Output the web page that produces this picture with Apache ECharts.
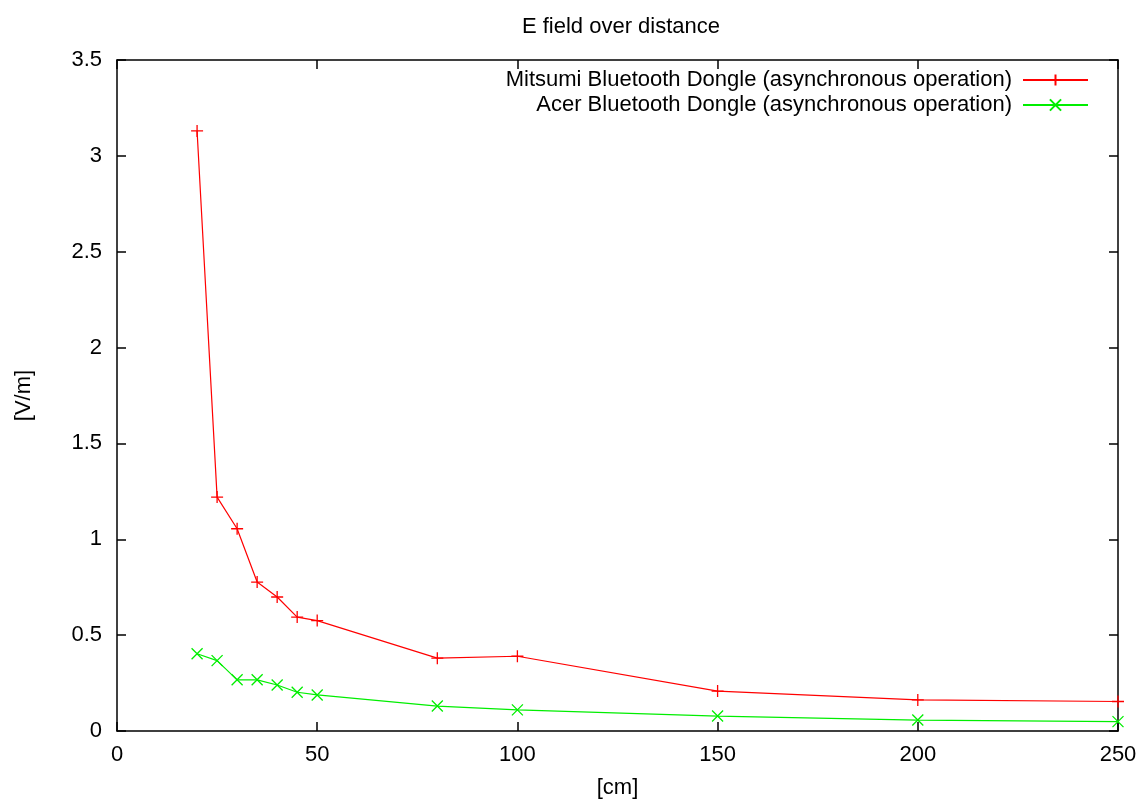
<!DOCTYPE html>
<html>
<head>
<meta charset="utf-8">
<script src="https://cdn.jsdelivr.net/npm/echarts@6/dist/echarts.min.js"></script>
<style>html,body{margin:0;padding:0;background:#fff}#c{width:1145px;height:806px}</style>
</head>
<body>
<div id="c"></div>
<script>
const distances = [20, 25, 30, 35, 40, 45, 50, 80, 100, 150, 200, 250];
const mitsumi = [3.13, 1.22, 1.055, 0.777, 0.699, 0.594, 0.576, 0.38, 0.39, 0.208, 0.162, 0.154];
const acer = [0.403, 0.367, 0.267, 0.267, 0.240, 0.202, 0.188, 0.130, 0.110, 0.078, 0.057, 0.049];
const xTicks = [0, 50, 100, 150, 200, 250];
const yTicks = [0, 0.5, 1, 1.5, 2, 2.5, 3, 3.5];
const names = ['Mitsumi Bluetooth Dongle (asynchronous operation)', 'Acer Bluetooth Dongle (asynchronous operation)'];

const FONT = 'Liberation Sans';
const FS = 22;
const pair = (ys) => distances.map((d, i) => [d, ys[i]]);
const axisCommon = {
  axisLine: { show: true, onZero: false, lineStyle: { color: '#000', width: 1.5 } },
  axisTick: { show: true, inside: true, length: 9, lineStyle: { color: '#000', width: 1.5 } },
  splitLine: { show: false },
};
const chart = echarts.init(document.getElementById('c'), null, { renderer: 'canvas' });
chart.setOption({
  animation: false,
  backgroundColor: '#fff',
  title: {
    text: 'E field over distance', left: 616, top: 11, textAlign: 'center',
    textStyle: { fontFamily: FONT, fontSize: FS, fontWeight: 'normal', color: '#000' }
  },
  grid: { left: 117, right: 27, top: 60, bottom: 75, containLabel: false },
  legend: {
    orient: 'vertical', right: 51, top: 64, align: 'right',
    itemWidth: 65, itemHeight: 14, itemGap: 3,
    textStyle: { fontFamily: FONT, fontSize: FS, color: '#000', padding: [0, 6, 0, 0] },
    data: names
  },
  xAxis: [
    Object.assign({}, axisCommon, {
      type: 'value', min: 0, max: 250, interval: 50, position: 'bottom',
      name: '[cm]', nameLocation: 'middle', nameGap: 46,
      nameTextStyle: { fontFamily: FONT, fontSize: FS, color: '#000' },
      axisLabel: { fontFamily: FONT, fontSize: FS, color: '#000', margin: 13,
        formatter: (v) => xTicks.includes(v) ? String(v) : '' }
    }),
    Object.assign({}, axisCommon, {
      type: 'value', min: 0, max: 250, interval: 50, position: 'top',
      axisLabel: { show: false }
    })
  ],
  yAxis: [
    Object.assign({}, axisCommon, {
      type: 'value', min: 0, max: 3.5, interval: 0.5, position: 'left',
      name: '[V/m]', nameLocation: 'middle', nameGap: 82, nameRotate: 90,
      nameTextStyle: { fontFamily: FONT, fontSize: FS, color: '#000' },
      axisLabel: { fontFamily: FONT, fontSize: FS, color: '#000', margin: 15,
        formatter: (v) => { const t = yTicks.find(y => Math.abs(y - v) < 1e-9); return t === undefined ? '' : String(t); } }
    }),
    Object.assign({}, axisCommon, {
      type: 'value', min: 0, max: 3.5, interval: 0.5, position: 'right',
      axisLabel: { show: false }
    })
  ],
  series: [
    {
      name: names[0], type: 'line', xAxisIndex: 0, yAxisIndex: 0,
      data: pair(mitsumi),
      symbol: 'path://M0,5L10,5M5,0L5,10', symbolSize: 12, showSymbol: true,
      lineStyle: { color: '#ff0000', width: 1.2 },
      itemStyle: { color: '#ff0000', borderColor: '#ff0000', borderWidth: 1.3 },
      clip: false
    },
    {
      name: names[1], type: 'line', xAxisIndex: 0, yAxisIndex: 0,
      data: pair(acer),
      symbol: 'path://M0,0L10,10M10,0L0,10', symbolSize: 11, showSymbol: true,
      lineStyle: { color: '#00ee00', width: 1.2 },
      itemStyle: { color: '#00ee00', borderColor: '#00ee00', borderWidth: 1.3 },
      clip: false
    }
  ]
});
</script>
</body>
</html>
